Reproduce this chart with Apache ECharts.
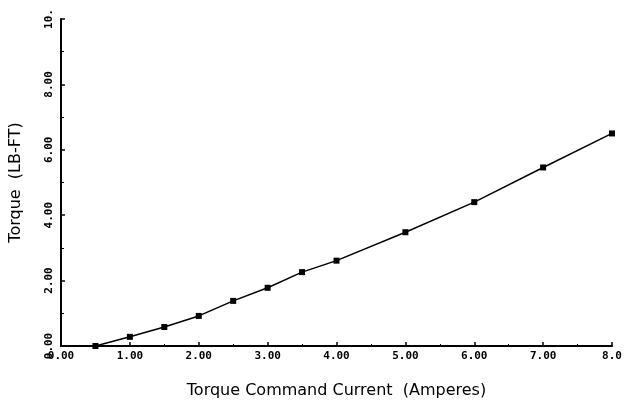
<!DOCTYPE html>
<html>
<head>
<meta charset="utf-8">
<script src="https://cdn.jsdelivr.net/npm/echarts@6/dist/echarts.min.js"></script>
<style>html,body{margin:0;padding:0;background:#fff;}#c{width:626px;height:405px;}</style>
</head>
<body>
<div id="c"></div>
<script>
const currentAmps = [0.5, 1.0, 1.5, 2.0, 2.5, 3.0, 3.5, 4.0, 5.0, 6.0, 7.0, 8.0];
const torqueLbFt = [0.0, 0.28, 0.58, 0.92, 1.38, 1.78, 2.26, 2.61, 3.48, 4.40, 5.46, 6.50];
const xTickLabels = {0: '0.00', 1: '1.00', 2: '2.00', 3: '3.00', 4: '4.00', 5: '5.00', 6: '6.00', 7: '7.00', 8: '8.0'};
const yTickLabels = {0: '0.00', 2: '2.00', 4: '4.00', 6: '6.00', 8: '8.00', 10: '10.'};

const chart = echarts.init(document.getElementById('c'), null, {renderer: 'canvas'});
const tickFont = {color: '#000', fontFamily: 'DejaVu Sans Mono', fontWeight: 'bold', fontSize: 11};
chart.setOption({
  animation: false,
  backgroundColor: '#fff',
  grid: {left: 61, right: 14, top: 19, bottom: 59},
  xAxis: {
    type: 'value', min: 0, max: 8, interval: 1,
    name: 'Torque Command Current  (Amperes)', nameLocation: 'middle', nameGap: 37,
    nameTextStyle: {color: '#000', fontFamily: 'DejaVu Sans', fontSize: 16},
    axisLine: {onZero: false, lineStyle: {color: '#000', width: 2}},
    axisTick: {show: true, inside: true, length: 4, lineStyle: {color: '#000', width: 1.5}},
    minorTick: {show: true, splitNumber: 2, length: 2, lineStyle: {color: '#000'}},
    splitLine: {show: false},
    axisLabel: Object.assign({margin: 5, formatter: v => xTickLabels[v] !== undefined ? xTickLabels[v] : ''}, tickFont)
  },
  yAxis: {
    type: 'value', min: 0, max: 10, interval: 2,
    name: 'Torque  (LB-FT)', nameLocation: 'middle', nameGap: 37,
    nameTextStyle: {color: '#000', fontFamily: 'DejaVu Sans', fontSize: 16},
    axisLine: {show: true, onZero: false, lineStyle: {color: '#000', width: 2}},
    axisTick: {show: true, inside: true, length: 4, lineStyle: {color: '#000', width: 1.5}},
    minorTick: {show: true, splitNumber: 2, length: 3, lineStyle: {color: '#000'}},
    splitLine: {show: false},
    axisLabel: Object.assign({rotate: 90, margin: 6, formatter: v => yTickLabels[v] !== undefined ? yTickLabels[v] : ''}, tickFont)
  },
  series: [{
    type: 'line',
    data: currentAmps.map((x, i) => [x, torqueLbFt[i]]),
    symbol: 'rect', symbolSize: 6,
    lineStyle: {color: '#000', width: 1.5},
    itemStyle: {color: '#000'}
  }]
});
</script>
</body>
</html>
